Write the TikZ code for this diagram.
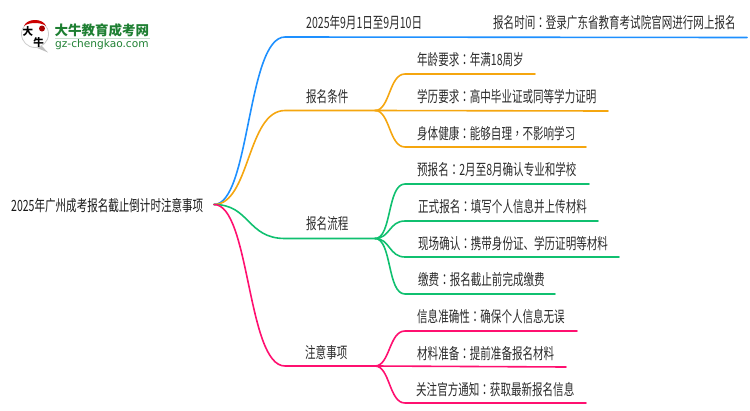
\documentclass[tikz,border=0pt]{standalone}
\usepackage{fontspec}
\newfontfamily\cjk[FakeStretch=0.68]{Noto Sans CJK SC}
\newfontfamily\cjkp[FakeStretch=0.68]{Noto Sans CJK TC}
\newfontfamily\cjkb[FakeStretch=1.0]{Noto Sans CJK SC}
\newfontfamily\logolat{DejaVu Sans}
\newcommand{\fwc}{{\cjkp ：}}
\newcommand{\fwm}{{\cjkp ，}}
\definecolor{cblue}{HTML}{1E90FF}
\definecolor{corange}{HTML}{F5A60F}
\definecolor{cgreen}{HTML}{10C070}
\definecolor{cpink}{HTML}{FF1070}
\definecolor{ctext}{HTML}{2A2A2A}
\definecolor{cgreenlogo}{HTML}{1E7F32}
\tikzset{
  x=1pt,y=-1pt,
  lab/.style={anchor=west,inner sep=0pt,font=\cjk\fontsize{15.5}{15.5}\selectfont,text=ctext},
  rootlab/.style={lab,text=black!90},
  wire/.style={line width=1.6pt,line cap=round},
  wb/.style={wire,cblue}, wo/.style={wire,corange}, wg/.style={wire,cgreen}, wp/.style={wire,cpink},
  logoch/.style={inner sep=0pt,font=\cjkb\bfseries\fontsize{10.5}{10.5}\selectfont,text=black,text height=8.5pt,text depth=1pt},
}
\begin{document}
\begin{tikzpicture}
\useasboundingbox (0,0) rectangle (750,410);
% logo
\fill[black!25] (41,45) -- (48,52.5) -- (36,47.5) -- cycle;
\fill[white,draw=black!20,line width=.8pt] (35,34) circle (13.5);
\fill[red!80!black] (24,26) .. controls (27,18) and (43,18) .. (46,26) .. controls (41,22) and (29,22) .. (24,26) -- cycle;
\node[logoch] (logoa) at (28,32) {大};
\node[logoch] (logob) at (38.5,42.5) {牛};
\node[inner sep=0pt,circle,fill=red!65!black,minimum size=6pt] (seal) at (42,28.5) {};
\node[anchor=west,inner sep=0pt,font=\cjkb\bfseries\fontsize{13.5}{13.5}\selectfont,text=cgreenlogo] (logot) at (54.5,30) {大牛教育成考网};
\node[anchor=west,inner sep=0pt,font=\logolat\fontsize{10.6}{10.6}\selectfont,text=cgreenlogo] (logou) at (55,45) {gz-chengkao.com};
\fill[cgreenlogo!25] (55,38.2) rectangle (150,39.2);
% texts
\node[rootlab] (root) at (11,206) {2025年广州成考报名截止倒计时注意事项};
\node[lab] (t1) at (306,23) {2025年9月1日至9月10日};
\node[lab] (t1a) at (493,23) {报名时间\fwc 登录广东省教育考试院官网进行网上报名};
\node[lab] (t2) at (306,97) {报名条件};
\node[lab] (t2a) at (417,60) {年龄要求\fwc 年满18周岁};
\node[lab] (t2b) at (417,97) {学历要求\fwc 高中毕业证或同等学力证明};
\node[lab] (t2c) at (417,134) {身体健康\fwc 能够自理\fwm 不影响学习};
\node[lab] (t3) at (306,224) {报名流程};
\node[lab] (t3a) at (417,170) {预报名\fwc 2月至8月确认专业和学校};
\node[lab] (t3b) at (418,207) {正式报名\fwc 填写个人信息并上传材料};
\node[lab] (t3c) at (418,244) {现场确认\fwc 携带身份证、学历证明等材料};
\node[lab] (t3d) at (418,280) {缴费\fwc 报名截止前完成缴费};
\node[lab] (t4) at (305,353) {注意事项};
\node[lab] (t4a) at (417,317) {信息准确性\fwc 确保个人信息无误};
\node[lab] (t4b) at (417,354) {材料准备\fwc 提前准备报名材料};
\node[lab] (t4c) at (416,390) {关注官方通知\fwc 获取最新报名信息};
% anchors of connectors
\coordinate (o) at (214,204.5);
\coordinate (h1) at (285,37);  \coordinate (e1) at (747,37.5);
\coordinate (h2) at (375,110.5); \coordinate (h3) at (375,238.5); \coordinate (h4) at (375,366);
\coordinate (e2a) at (535,74);  \coordinate (e2b) at (608,111); \coordinate (e2c) at (586,147);
\coordinate (e3a) at (589,184); \coordinate (e3b) at (598,221); \coordinate (e3c) at (619,257); \coordinate (e3d) at (555,294);
\coordinate (e4a) at (577,331); \coordinate (e4b) at (566,367); \coordinate (e4c) at (586,403);
% main branches
\draw[wb] (o) .. controls (250,204.5) and (247,37) .. (h1) -- (e1);
\draw[wo] (o) .. controls (250,204.5) and (247,110.5) .. (285,110.5) -- (h2);
\draw[wg] (o) .. controls (250,204.5) and (247,238.5) .. (285,238.5) -- (h3);
\draw[wp] (o) .. controls (250,204.5) and (247,366) .. (285,366) -- (h4);
% sub branches
\draw[wo] (h2) .. controls (390,110.5) and (389,74) .. (405,74) -- (e2a);
\draw[wo] (h2) -- (e2b);
\draw[wo] (h2) .. controls (390,110.5) and (389,147) .. (405,147) -- (e2c);
\draw[wg] (h3) .. controls (392,238.5) and (387,184) .. (405,184) -- (e3a);
\draw[wg] (h3) .. controls (390,238.5) and (389,221) .. (405,221) -- (e3b);
\draw[wg] (h3) .. controls (390,238.5) and (389,257) .. (405,257) -- (e3c);
\draw[wg] (h3) .. controls (392,238.5) and (387,294) .. (405,294) -- (e3d);
\draw[wp] (h4) .. controls (390,366) and (389,331) .. (405,331) -- (e4a);
\draw[wp] (h4) -- (e4b);
\draw[wp] (h4) .. controls (390,366) and (389,403) .. (405,403) -- (e4c);
\end{tikzpicture}
\end{document}
